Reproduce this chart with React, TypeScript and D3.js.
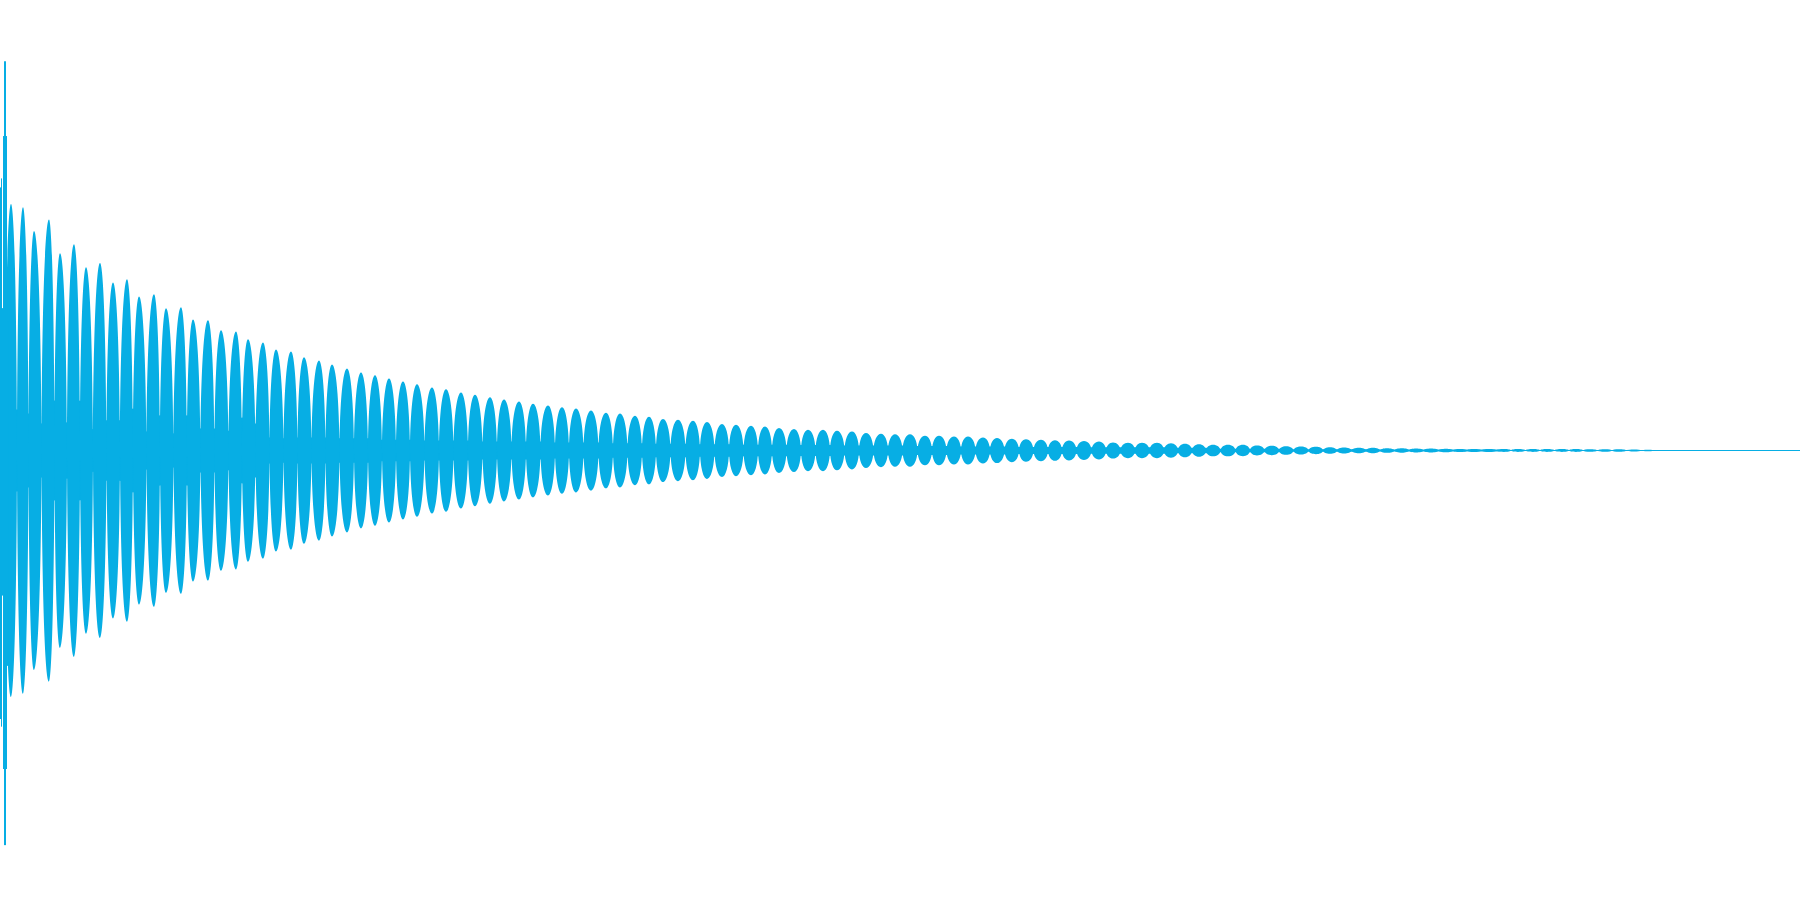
import React from "react";
import * as d3 from "d3";

// Time axis in milliseconds, amplitude normalised to full scale (-1..1)
const DURATION_MS = 900;

// Onset transient: per-column max (upper) and min (lower) amplitude
const onsetStart = [0, 0.5, 1, 1.5, 2, 3, 3.5];
const onsetEnd = [0.5, 1, 1.5, 2, 3, 3.5, 4.25];
const onsetUpper = [0.584, 0.604, 0.316, 0.698, 0.864, 0.698, 0.287];
const onsetLower = [0.596, 0.613, 0.322, 0.707, 0.876, 0.707, 0.478];

// Beat lobes: centre time (ms) and peak amplitude
const lobeTimes = [
  5.5, 11.5, 17, 24.5, 30, 37, 43, 50, 56.5, 63.5, 69.5, 77, 83, 90.5, 96.5, 104, 110.5, 118, 124, 131.5, 138, 145.5,
  152, 159.5, 166, 173.5, 180.5, 187.5, 194.5, 201.5, 208.5, 216, 223, 230.5, 237.5, 245, 252, 259.5, 266.5, 274, 281, 288, 295.5,
  303, 310, 317.5, 324.5, 331.5, 339, 346.5, 353.5, 361, 368, 375.5, 382.5, 389.5, 397, 404, 411.5, 418.5, 426, 433, 440.5, 447.5,
  455, 462.5, 469.5, 477, 484, 491.5, 498.5, 506, 513, 520.5, 527.5, 534.5, 542, 549.5, 556.5, 564, 571, 578.5, 585.5, 592.5, 599.5,
  606.5, 614, 621.5, 628.5, 636, 643, 650.5, 658, 665, 672, 679.5, 686.5, 693.5, 701, 708, 715.5, 723, 730, 737, 744.5,
  752, 759, 766.5, 773.5, 781, 788, 795, 802.5, 809.5, 817, 824,
];
const lobePeaks = [
  0.547, 0.54, 0.487, 0.513, 0.438, 0.458, 0.407, 0.416, 0.373, 0.38, 0.342, 0.347, 0.316, 0.318, 0.291, 0.289, 0.267, 0.264, 0.247, 0.24, 0.224, 0.22,
  0.207, 0.2, 0.191, 0.182, 0.173, 0.167, 0.16, 0.153, 0.147, 0.14, 0.136, 0.129, 0.124, 0.118, 0.113, 0.109, 0.104, 0.1, 0.096, 0.093, 0.089,
  0.084, 0.082, 0.077, 0.075, 0.07, 0.068, 0.066, 0.063, 0.059, 0.057, 0.055, 0.053, 0.05, 0.048, 0.046, 0.046, 0.044, 0.042, 0.039, 0.037, 0.036,
  0.036, 0.033, 0.033, 0.031, 0.031, 0.029, 0.028, 0.026, 0.025, 0.024, 0.023, 0.022, 0.021, 0.02, 0.018, 0.017, 0.017, 0.017, 0.016, 0.015, 0.014,
  0.013, 0.013, 0.0127, 0.011, 0.0104, 0.0096, 0.0089, 0.0082, 0.0073, 0.0067, 0.006, 0.006, 0.0051, 0.0049, 0.0044, 0.0044, 0.004, 0.0036, 0.0033, 0.0033,
  0.0031, 0.0031, 0.0031, 0.0031, 0.0031, 0.0031, 0.0029, 0.0027, 0.0027, 0.0022, 0.0016,
];
// Envelope minimum in the gap after each lobe
const gapTroughs = [
  0.091, 0.082, 0.06, 0.111, 0.062, 0.111, 0.047, 0.067, 0.067, 0.093, 0.042, 0.078, 0.038, 0.078, 0.049, 0.049, 0.044, 0.073, 0.06, 0.029, 0.027, 0.029,
  0.029, 0.029, 0.027, 0.027, 0.027, 0.024, 0.024, 0.024, 0.022, 0.022, 0.022, 0.022, 0.02, 0.02, 0.02, 0.02, 0.02, 0.018, 0.018, 0.018, 0.018,
  0.016, 0.016, 0.016, 0.015, 0.015, 0.015, 0.014, 0.014, 0.014, 0.013, 0.013, 0.013, 0.013, 0.012, 0.012, 0.012, 0.011, 0.011, 0.011, 0.011, 0.011,
  0.01, 0.01, 0.01, 0.009, 0.009, 0.009, 0.009, 0.008, 0.008, 0.008, 0.008, 0.008, 0.007, 0.007, 0.007, 0.007, 0.007, 0.007, 0.006, 0.006, 0.006,
  0.004, 0.004, 0.004, 0.004, 0.004, 0.003, 0.003, 0.003, 0.003, 0.003, 0.003, 0.002, 0.002, 0.002, 0.002, 0.002, 0.002, 0.002, 0.002, 0.002,
  0.001, 0.001, 0.001, 0.001, 0.001, 0.001, 0.001, 0.001, 0.001, 0.001, 0.001,
];

const WIDTH = 1800;
const HEIGHT = 900;
const COLOR = "#07aee4";

export default function App() {
  const x = d3.scaleLinear().domain([0, DURATION_MS]).range([0, WIDTH]);
  const y = d3.scaleLinear().domain([-1, 1]).range([HEIGHT + 1, 0]);
  const cy = y(0);

  // arch shape bezier constants (close to an ellipse, slightly pointed)
  const a = 0.04, b = 0.6, c = 0.52;
  const n = lobeTimes.length;
  let lobePath = "";
  for (let i = 0; i < n; i++) {
    const cx = x(lobeTimes[i]);
    const prev = i > 0 ? lobeTimes[i - 1] : null;
    const next = i < n - 1 ? lobeTimes[i + 1] : null;
    const wR = next !== null ? (x(next) - cx) / 2 : (cx - x(prev as number)) / 2;
    const wL = prev !== null ? (cx - x(prev)) / 2 : wR;
    const hT = cy - y(lobePeaks[i]);
    const hB = y(-lobePeaks[i]) - cy;
    const xl = cx - wL;
    const xr = cx + wR;
    lobePath +=
      `M${xl},${cy}` +
      `C${xl + a * wL},${cy - b * hT} ${cx - c * wL},${cy - hT} ${cx},${cy - hT}` +
      `C${cx + c * wR},${cy - hT} ${xr - a * wR},${cy - b * hT} ${xr},${cy}` +
      `C${xr - a * wR},${cy + b * hB} ${cx + c * wR},${cy + hB} ${cx},${cy + hB}` +
      `C${cx - c * wL},${cy + hB} ${xl + a * wL},${cy + b * hB} ${xl},${cy}Z`;
  }

  const gapPoints = lobeTimes.map((t, i) => ({
    t: i < n - 1 ? (t + lobeTimes[i + 1]) / 2 : t + 3.5,
    g: gapTroughs[i],
  }));
  const bandData = [{ t: lobeTimes[0] - 3, g: gapTroughs[0] }, ...gapPoints];
  const band = d3
    .area<{ t: number; g: number }>()
    .x((d) => x(d.t))
    .y0((d) => y(-d.g))
    .y1((d) => y(d.g))
    .curve(d3.curveMonotoneX);

  return (
    <div style={{ position: "absolute", left: 0, top: 0 }}>
      <svg width={WIDTH} height={HEIGHT} style={{ display: "block", background: "#ffffff" }}>
        <line
          x1={x(0)}
          x2={x(DURATION_MS)}
          y1={cy}
          y2={cy}
          stroke={COLOR}
          strokeWidth={1}
        />
        <path d={band(bandData) || ""} fill={COLOR} />
        <path d={lobePath} fill={COLOR} />
        {onsetStart.map((t, i) => (
          <rect
            key={i}
            x={x(t)}
            width={x(onsetEnd[i]) - x(t)}
            y={y(onsetUpper[i])}
            height={y(-onsetLower[i]) - y(onsetUpper[i])}
            fill={COLOR}
          />
        ))}
      </svg>
    </div>
  );
}
